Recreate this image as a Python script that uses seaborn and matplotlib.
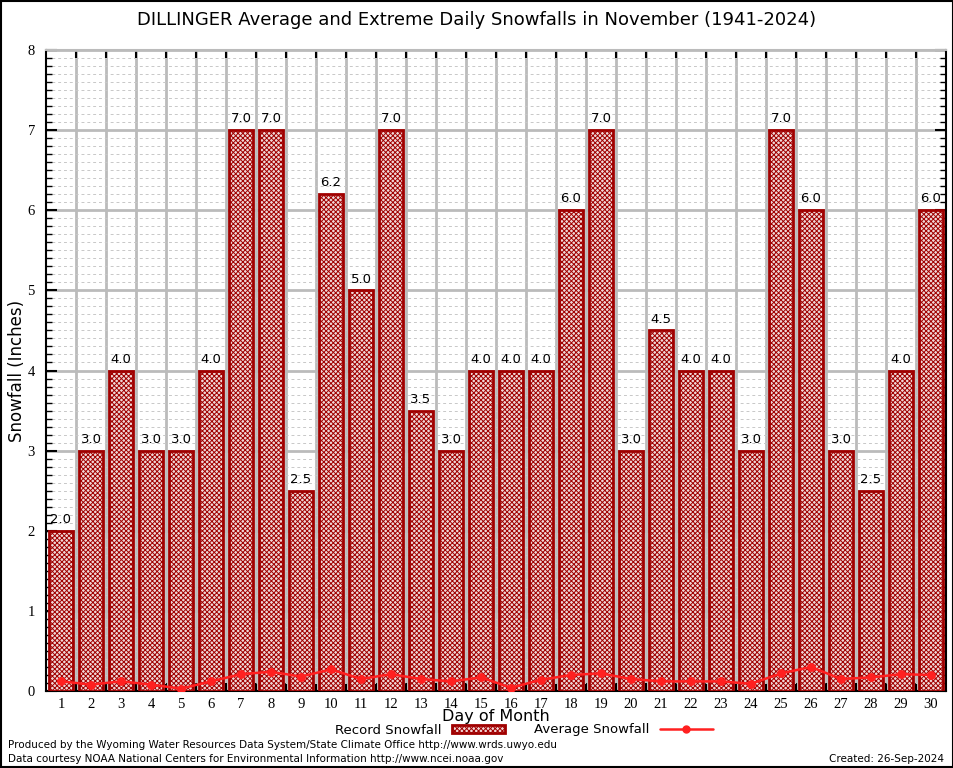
import numpy as np
import pandas as pd
import matplotlib
matplotlib.use('Agg')
import matplotlib.pyplot as plt
import seaborn as sns
from matplotlib.patches import Patch, Rectangle
from matplotlib.lines import Line2D
from matplotlib.ticker import MultipleLocator, FixedLocator

# Data
days = list(range(1, 31))
record_snow = [2.0, 3.0, 4.0, 3.0, 3.0, 4.0, 7.0, 7.0, 2.5, 6.2,
               5.0, 7.0, 3.5, 3.0, 4.0, 4.0, 4.0, 6.0, 7.0, 3.0,
               4.5, 4.0, 4.0, 3.0, 7.0, 6.0, 3.0, 2.5, 4.0, 6.0]
avg_snow = [0.12, 0.08, 0.12, 0.08, 0.03, 0.12, 0.21, 0.24, 0.18, 0.27,
            0.15, 0.21, 0.15, 0.12, 0.17, 0.04, 0.14, 0.20, 0.22, 0.15,
            0.12, 0.12, 0.12, 0.09, 0.22, 0.30, 0.15, 0.17, 0.21, 0.20]

df = pd.DataFrame({'day': days, 'record': record_snow, 'avg': avg_snow})

sns.set_style('white')
plt.rcParams['font.family'] = ['DejaVu Sans']
plt.rcParams['hatch.linewidth'] = 0.7
for key in ['text.color', 'axes.labelcolor', 'xtick.color', 'ytick.color']:
    plt.rcParams[key] = 'black'

bar_edge = '#a00000'
bar_face = '#f4d4d4'
hatch = 'xxxxxxx'

fig = plt.figure(figsize=(9.54, 7.68), dpi=100)
ax = fig.add_axes([46 / 954, 1 - 691 / 768, 900 / 954, 641 / 768])

# Record bars
sns.barplot(data=df, x='day', y='record', ax=ax, width=0.8,
            color=bar_face, edgecolor=bar_edge, linewidth=2,
            hatch=hatch, zorder=3)

# Average line
sns.pointplot(data=df, x='day', y='avg', ax=ax, color='#ff2020',
              markers='o', markersize=5, linewidth=1.8, zorder=5)

# Value labels
for i, v in enumerate(record_snow):
    ax.text(i, v + 0.06, f'{v:.1f}', ha='center', va='bottom', fontsize=9.5, zorder=6)

ax.set_xlim(-0.5, 29.5)
ax.set_ylim(0, 8)

# Grid
ax.yaxis.set_major_locator(MultipleLocator(1))
ax.yaxis.set_minor_locator(MultipleLocator(0.1))
ax.xaxis.set_minor_locator(FixedLocator(np.arange(0.5, 29.5, 1)))
ax.grid(which='major', axis='y', color='#bbbbbb', linewidth=2, zorder=0)
ax.grid(which='minor', axis='y', color='#c8c8c8', linewidth=0.7, linestyle=(0, (3, 3)), zorder=0)
ax.grid(which='minor', axis='x', color='#bbbbbb', linewidth=2, zorder=0)
ax.grid(which='major', axis='x', visible=False)
ax.set_axisbelow(True)

ax.tick_params(axis='x', which='major', length=0, pad=5, labelsize=10.5)
ax.tick_params(axis='x', which='minor', direction='in', length=6, width=1.5, top=True, bottom=True, color='black')
ax.tick_params(axis='y', which='major', direction='in', length=8, width=1.5, left=True, right=True, labelsize=10.5, pad=8)
ax.tick_params(axis='y', which='minor', direction='in', length=4, width=1, left=True, right=True)
for lbl in ax.get_xticklabels() + ax.get_yticklabels():
    lbl.set_fontfamily('Liberation Serif')

for side in ['left', 'right', 'bottom']:
    ax.spines[side].set_color('black')
    ax.spines[side].set_linewidth(1.5)
ax.spines['top'].set_color('#bbbbbb')
ax.spines['top'].set_linewidth(1.5)

ax.set_xlabel('Day of Month', fontsize=11.5)
ax.set_ylabel('Snowfall (Inches)', fontsize=12)
ax.xaxis.set_label_coords(0.5, -(709 - 691) / 641)
ax.yaxis.set_label_coords(-(46 - 26) / 900, 0.5)
fig.text(0.5, 1 - 20 / 768, 'DILLINGER Average and Extreme Daily Snowfalls in November (1941-2024)',
         ha='center', va='center', fontsize=13)

# Legend
handles = [Patch(facecolor=bar_face, edgecolor=bar_edge, hatch=hatch, linewidth=2),
           Line2D([0], [0], color='#ff2020', marker='o', markersize=5, linewidth=1.8)]
fig.legend(handles, ['Record Snowfall', 'Average Snowfall'], loc='center',
           bbox_to_anchor=(524 / 954, 1 - 730 / 768), ncol=2, frameon=False,
           markerfirst=False, fontsize=9.5, handlelength=4, handleheight=0.5,
           columnspacing=2.2, handletextpad=0.8, borderpad=0)

# Footer
fig.text(8 / 954, 1 - 745 / 768, 'Produced by the Wyoming Water Resources Data System/State Climate Office http://www.wrds.uwyo.edu',
         ha='left', va='center', fontsize=7.5)
fig.text(8 / 954, 1 - 759 / 768, 'Data courtesy NOAA National Centers for Environmental Information http://www.ncei.noaa.gov',
         ha='left', va='center', fontsize=7.5)
fig.text(944 / 954, 1 - 759 / 768, 'Created: 26-Sep-2024', ha='right', va='center', fontsize=7.5)

# Outer border
fig.patches.append(Rectangle((0.001, 0.001), 0.998, 0.998, transform=fig.transFigure,
                             fill=False, edgecolor='black', linewidth=1.5))

fig.savefig('out.png', dpi=100)
